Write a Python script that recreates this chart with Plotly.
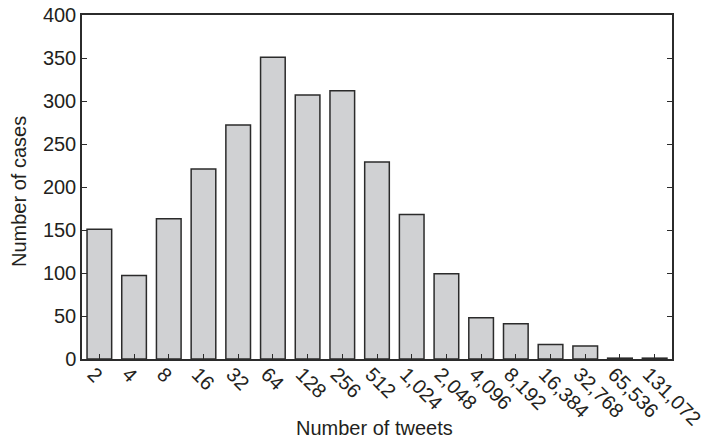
import plotly.graph_objects as go

categories = ["2", "4", "8", "16", "32", "64", "128", "256", "512", "1,024", "2,048",
              "4,096", "8,192", "16,384", "32,768", "65,536", "131,072"]
cases = [151, 97, 163, 221, 272, 351, 307, 312, 229, 168, 99, 48, 41, 17, 15, 1, 1]
y_ticks = [0, 50, 100, 150, 200, 250, 300, 350, 400]

font_family = "Liberation Sans, Arial, Helvetica, sans-serif"
text_color = "#231f20"

plot_w = 711 - 82 - 39
plot_h = 440 - 15 - 81

fig = go.Figure(go.Bar(
    x=categories, y=cases,
    marker=dict(color="#d0d1d3", line=dict(color="#2b2b2b", width=1.5)),
))

fig.update_layout(
    width=711, height=440,
    margin=dict(l=82, r=39, t=15, b=81),
    plot_bgcolor="white", paper_bgcolor="white",
    bargap=0.29,
    showlegend=False,
    font=dict(family=font_family, color=text_color, size=20),
    annotations=[
        dict(text="Number of tweets", x=(374 - 82) / plot_w, xref="paper",
             y=(440 - 81 - 428) / plot_h, yref="paper",
             showarrow=False, font=dict(size=20), xanchor="center", yanchor="middle"),
        dict(text="Number of cases", x=(19 - 82) / plot_w, xref="paper",
             y=(359 - 192) / plot_h, yref="paper",
             showarrow=False, font=dict(size=20), textangle=-90,
             xanchor="center", yanchor="middle"),
    ],
)

fig.update_xaxes(
    type="category", range=[-0.5, 16.5], automargin=False,
    tickangle=45, ticks="inside", ticklen=5, tickcolor="#2b2b2b",
    ticklabelshift=-6, ticklabelstandoff=-6,
    showline=True, linecolor="#2b2b2b", linewidth=1.5, mirror=True,
    showgrid=False, tickfont=dict(size=20),
)
fig.update_yaxes(
    range=[0, 400], tickvals=y_ticks, ticks="inside", ticklen=5, tickcolor="#2b2b2b",
    automargin=False,
    showline=True, linecolor="#2b2b2b", linewidth=1.5, mirror="ticks",
    showgrid=False, zeroline=False, tickfont=dict(size=20),
)

fig.write_html("out.html")
